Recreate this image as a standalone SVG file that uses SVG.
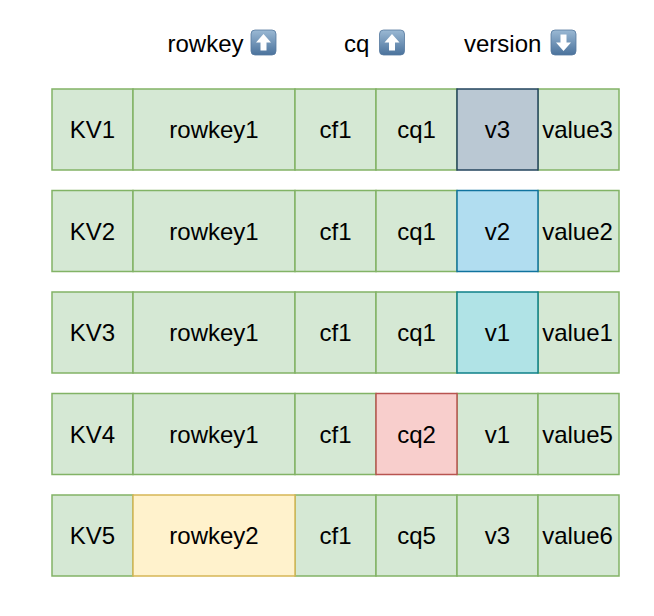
<svg xmlns="http://www.w3.org/2000/svg" width="654" height="616" viewBox="0 0 654 616">
  <style>
    text { font-family: "Liberation Sans", Arial, Helvetica, sans-serif; font-size: 24px; fill: #000; }
    .c { text-anchor: middle; }
    rect.cell { stroke-width: 1.5; }
    .green { fill: #d5e8d4; stroke: #82b366; }
    .grey { fill: #bac8d3; stroke: #23445d; }
    .blue { fill: #b1ddf0; stroke: #10739e; }
    .teal { fill: #b0e3e6; stroke: #0e8088; }
    .red { fill: #f8cecc; stroke: #b85450; }
    .yellow { fill: #fff2cc; stroke: #d6b656; }
  </style>
  <defs>
    <linearGradient id="btn" x1="0" y1="0" x2="0" y2="1">
      <stop offset="0" stop-color="#9bb9d4"/>
      <stop offset="1" stop-color="#4a729c"/>
    </linearGradient>
    <!-- sort-order badge: rounded square with an arrow -->
    <g id="up">
      <rect x="0" y="0" width="25" height="25" rx="4" fill="url(#btn)" stroke="#56799e" stroke-width="0.8"/>
      <path d="M12.5 4 L20 12.5 L15.5 12.5 L15.5 20.5 L9.5 20.5 L9.5 12.5 L5 12.5 Z" fill="#fff"/>
    </g>
    <g id="down">
      <rect x="0" y="0" width="25" height="25" rx="4" fill="url(#btn)" stroke="#56799e" stroke-width="0.8"/>
      <path d="M12.5 21 L20 12.5 L15.5 12.5 L15.5 4.5 L9.5 4.5 L9.5 12.5 L5 12.5 Z" fill="#fff"/>
    </g>
  </defs>

  <rect width="654" height="616" fill="#fff"/>

  <!-- column headers -->
  <g id="header">
    <text x="167.5" y="51.5">rowkey</text>
    <use href="#up" x="251" y="30"/>
    <text x="344" y="51.5">cq</text>
    <use href="#up" x="379.5" y="30"/>
    <text x="464" y="51.5">version</text>
    <use href="#down" x="551" y="30"/>
  </g>

  <!-- KV1 -->
  <g id="kv1" transform="translate(0,89)">
    <g id="kv1-name"><rect class="cell green" x="52" y="0" width="81" height="81"/><text class="c" x="92.5" y="49">KV1</text></g>
    <g id="kv1-rowkey"><rect class="cell green" x="133" y="0" width="162" height="81"/><text class="c" x="214" y="49">rowkey1</text></g>
    <g id="kv1-cf"><rect class="cell green" x="295" y="0" width="81" height="81"/><text class="c" x="335.5" y="49">cf1</text></g>
    <g id="kv1-cq"><rect class="cell green" x="376" y="0" width="81" height="81"/><text class="c" x="416.5" y="49">cq1</text></g>
    <g id="kv1-value"><rect class="cell green" x="538" y="0" width="81" height="81"/><text class="c" x="577.5" y="49">value3</text></g>
    <g id="kv1-version"><rect class="cell grey" x="457" y="0" width="81" height="81"/><text class="c" x="497.5" y="49">v3</text></g>
  </g>

  <!-- KV2 -->
  <g id="kv2" transform="translate(0,190.5)">
    <g id="kv2-name"><rect class="cell green" x="52" y="0" width="81" height="81"/><text class="c" x="92.5" y="49">KV2</text></g>
    <g id="kv2-rowkey"><rect class="cell green" x="133" y="0" width="162" height="81"/><text class="c" x="214" y="49">rowkey1</text></g>
    <g id="kv2-cf"><rect class="cell green" x="295" y="0" width="81" height="81"/><text class="c" x="335.5" y="49">cf1</text></g>
    <g id="kv2-cq"><rect class="cell green" x="376" y="0" width="81" height="81"/><text class="c" x="416.5" y="49">cq1</text></g>
    <g id="kv2-value"><rect class="cell green" x="538" y="0" width="81" height="81"/><text class="c" x="577.5" y="49">value2</text></g>
    <g id="kv2-version"><rect class="cell blue" x="457" y="0" width="81" height="81"/><text class="c" x="497.5" y="49">v2</text></g>
  </g>

  <!-- KV3 -->
  <g id="kv3" transform="translate(0,292)">
    <g id="kv3-name"><rect class="cell green" x="52" y="0" width="81" height="81"/><text class="c" x="92.5" y="49">KV3</text></g>
    <g id="kv3-rowkey"><rect class="cell green" x="133" y="0" width="162" height="81"/><text class="c" x="214" y="49">rowkey1</text></g>
    <g id="kv3-cf"><rect class="cell green" x="295" y="0" width="81" height="81"/><text class="c" x="335.5" y="49">cf1</text></g>
    <g id="kv3-cq"><rect class="cell green" x="376" y="0" width="81" height="81"/><text class="c" x="416.5" y="49">cq1</text></g>
    <g id="kv3-value"><rect class="cell green" x="538" y="0" width="81" height="81"/><text class="c" x="577.5" y="49">value1</text></g>
    <g id="kv3-version"><rect class="cell teal" x="457" y="0" width="81" height="81"/><text class="c" x="497.5" y="49">v1</text></g>
  </g>

  <!-- KV4 -->
  <g id="kv4" transform="translate(0,393.5)">
    <g id="kv4-name"><rect class="cell green" x="52" y="0" width="81" height="81"/><text class="c" x="92.5" y="49">KV4</text></g>
    <g id="kv4-rowkey"><rect class="cell green" x="133" y="0" width="162" height="81"/><text class="c" x="214" y="49">rowkey1</text></g>
    <g id="kv4-cf"><rect class="cell green" x="295" y="0" width="81" height="81"/><text class="c" x="335.5" y="49">cf1</text></g>
    <g id="kv4-version"><rect class="cell green" x="457" y="0" width="81" height="81"/><text class="c" x="497.5" y="49">v1</text></g>
    <g id="kv4-value"><rect class="cell green" x="538" y="0" width="81" height="81"/><text class="c" x="577.5" y="49">value5</text></g>
    <g id="kv4-cq"><rect class="cell red" x="376" y="0" width="81" height="81"/><text class="c" x="416.5" y="49">cq2</text></g>
  </g>

  <!-- KV5 -->
  <g id="kv5" transform="translate(0,495)">
    <g id="kv5-name"><rect class="cell green" x="52" y="0" width="81" height="81"/><text class="c" x="92.5" y="49">KV5</text></g>
    <g id="kv5-cf"><rect class="cell green" x="295" y="0" width="81" height="81"/><text class="c" x="335.5" y="49">cf1</text></g>
    <g id="kv5-cq"><rect class="cell green" x="376" y="0" width="81" height="81"/><text class="c" x="416.5" y="49">cq5</text></g>
    <g id="kv5-version"><rect class="cell green" x="457" y="0" width="81" height="81"/><text class="c" x="497.5" y="49">v3</text></g>
    <g id="kv5-value"><rect class="cell green" x="538" y="0" width="81" height="81"/><text class="c" x="577.5" y="49">value6</text></g>
    <g id="kv5-rowkey"><rect class="cell yellow" x="133" y="0" width="162" height="81"/><text class="c" x="214" y="49">rowkey2</text></g>
  </g>
</svg>
